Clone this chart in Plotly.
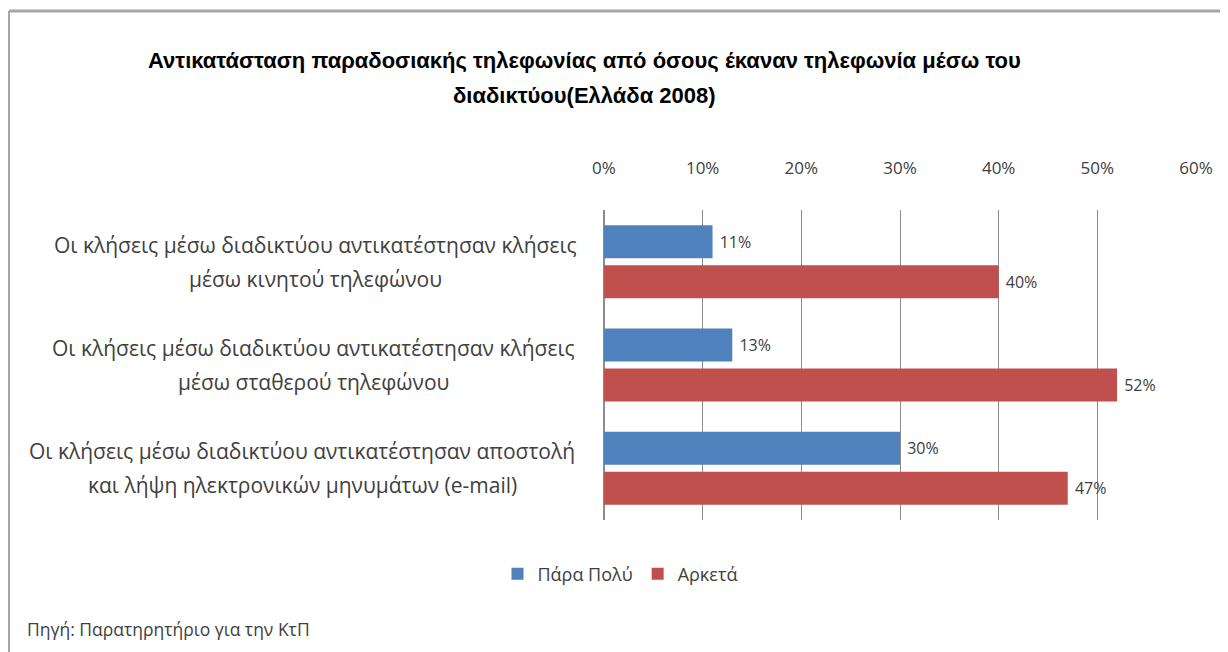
import plotly.graph_objects as go

categories = [
    ["Οι κλήσεις μέσω διαδικτύου αντικατέστησαν κλήσεις", "μέσω κινητού τηλεφώνου"],
    ["Οι κλήσεις μέσω διαδικτύου αντικατέστησαν κλήσεις", "μέσω σταθερού τηλεφώνου"],
    ["Οι κλήσεις μέσω διαδικτύου αντικατέστησαν αποστολή", "και λήψη ηλεκτρονικών μηνυμάτων (e-mail)"],
]
cat_ids = ["c1", "c2", "c3"]
series_names = ["Πάρα Πολύ", "Αρκετά"]
para_polu = [0.11, 0.13, 0.30]
arketa = [0.40, 0.52, 0.47]
tick_vals = [0, 0.1, 0.2, 0.3, 0.4, 0.5, 0.6]
title_lines = ["Αντικατάσταση παραδοσιακής τηλεφωνίας από όσους έκαναν τηλεφωνία μέσω του",
               "διαδικτύου(Ελλάδα 2008)"]
source_text = "Πηγή: Παρατηρητήριο για την ΚτΠ"

BLUE = "#4F81BD"
RED = "#C0504D"
GRAY = "#404040"
FONT = "Open Sans"

OFF = 8  # page body margin
W, H = 1228 - OFF, 652 - OFF
L, R, T, B = 604 - OFF, 1228 - 1196, 210 - OFF, 652 - 520
pw, ph = W - L - R, H - T - B

def px_x(p):
    return (p - OFF - L) / pw

def px_y(p):
    return (H - B - (p - OFF)) / ph

fig = go.Figure()
for name, vals, col in [(series_names[0], para_polu, BLUE), (series_names[1], arketa, RED)]:
    fig.add_trace(go.Bar(
        y=cat_ids, x=vals, name=name, orientation="h",
        marker=dict(color=col, line=dict(width=0)),
        text=[f" {v*100:.0f}%" for v in vals], textposition="outside",
        textfont=dict(family=FONT, size=16, color=GRAY),
        cliponaxis=False,
    ))

label_centers = [315, 313, 302]
annotations = []
for cid, lines, cx in zip(cat_ids, categories, label_centers):
    for k, line in enumerate(lines):
        annotations.append(dict(
            x=px_x(cx), xref="paper", y=cid, yref="y", xanchor="center", yanchor="middle",
            yshift=17 if k == 0 else -17,
            text=line, showarrow=False, align="center",
            font=dict(family=FONT, size=21, color=GRAY),
        ))
for line, yy in zip(title_lines, [60, 95]):
    annotations.append(dict(
        x=px_x(584), xref="paper", y=px_y(yy), yref="paper", xanchor="center", yanchor="middle",
        text="<b>" + line + "</b>", showarrow=False, align="center",
        font=dict(family="Liberation Sans", size=22, color="#000000"),
    ))
annotations.append(dict(
    x=px_x(25), xref="paper", y=px_y(629), yref="paper", xanchor="left", yanchor="middle",
    text=source_text, showarrow=False, align="left",
    font=dict(family=FONT, size=17.5, color=GRAY),
))

shapes = [
    dict(type="line", xref="paper", yref="paper", x0=px_x(9), x1=px_x(1240), y0=px_y(11), y1=px_y(11),
         line=dict(color="#A6A6A6", width=3)),
    dict(type="line", xref="paper", yref="paper", x0=px_x(9), x1=px_x(9), y0=px_y(11), y1=px_y(660),
         line=dict(color="#A6A6A6", width=2)),
]

fig.update_layout(
    width=W, height=H,
    margin=dict(l=L, r=R, t=T, b=B, pad=0),
    paper_bgcolor="white", plot_bgcolor="white",
    barmode="group", bargap=0.225, bargroupgap=0.175,
    showlegend=True,
    legend=dict(orientation="h", x=px_x(620), xanchor="center", y=px_y(574), yanchor="middle",
                font=dict(family=FONT, size=18, color=GRAY), traceorder="normal"),
    annotations=annotations,
    shapes=shapes,
    xaxis=dict(range=[0, 0.6], tickvals=tick_vals, tickformat=".0%", side="top",
               showgrid=True, gridcolor="#8C8C8C", gridwidth=1, zeroline=True, zerolinecolor="#8C8C8C",
               showline=False, ticks="outside", ticklen=28, tickcolor="rgba(0,0,0,0)",
               tickfont=dict(family=FONT, size=17, color=GRAY), fixedrange=True),
    yaxis=dict(categoryorder="array", categoryarray=cat_ids, autorange="reversed",
               showticklabels=False, showgrid=False, zeroline=False, showline=False, fixedrange=True),
    font=dict(family=FONT),
)

fig.write_html("out.html")
